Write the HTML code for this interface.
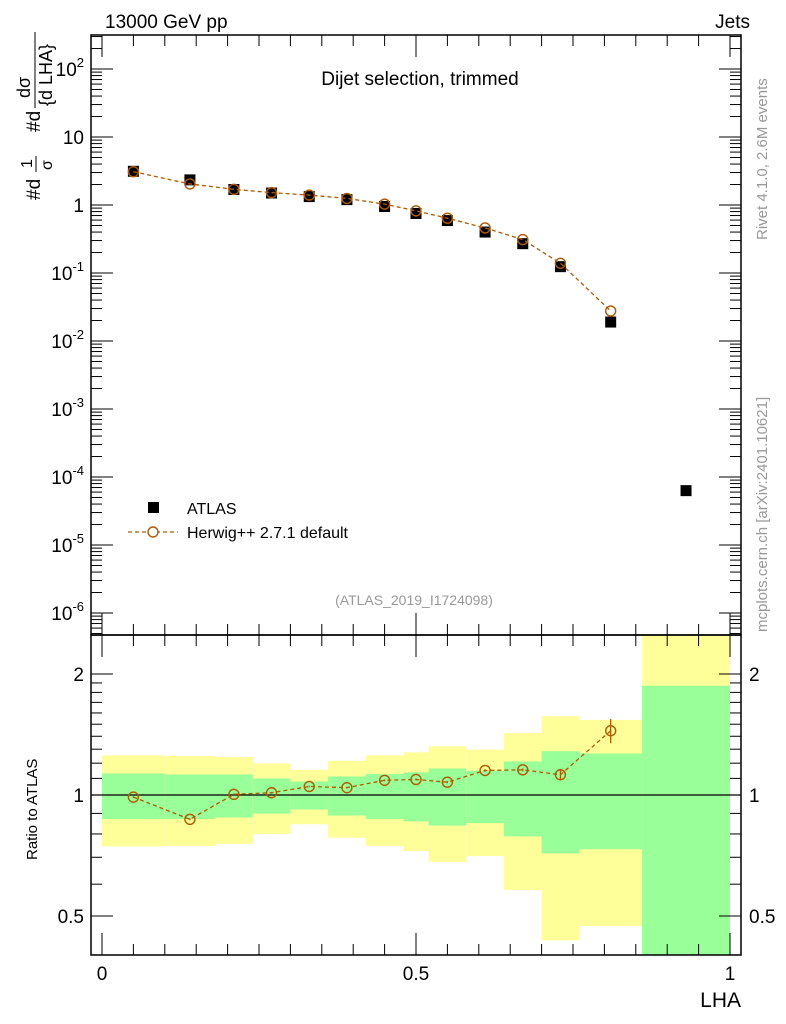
<!DOCTYPE html>
<html><head><meta charset="utf-8"><style>
body{margin:0;background:#fff;}
svg{display:block;font-family:"Liberation Sans",sans-serif;}
</style></head><body>
<svg id="c" width="786" height="1024" xmlns="http://www.w3.org/2000/svg"></svg>
<script>
const edges=[0,0.1,0.18,0.24,0.3,0.36,0.42,0.48,0.52,0.58,0.64,0.7,0.76,0.86,1.0];
const centers=[0.05,0.14,0.21,0.27,0.33,0.39,0.45,0.5,0.55,0.61,0.67,0.73,0.81,0.93];
const atlasValues=[3.13,2.34,1.69,1.50,1.33,1.20,0.95,0.75,0.59,0.40,0.27,0.124,0.019,0.000063];
const herwigValues=[3.09,2.04,1.70,1.52,1.40,1.25,1.03,0.82,0.64,0.46,0.31,0.139,0.0276];
const herwigRatio=[0.988,0.87,1.004,1.013,1.05,1.043,1.088,1.093,1.076,1.151,1.155,1.123,1.445];
const herwigRatioErr=[0.005,0.005,0.005,0.005,0.005,0.005,0.006,0.006,0.006,0.008,0.01,0.03,0.1];
const yellowHi=[1.255,1.25,1.243,1.198,1.155,1.217,1.255,1.277,1.322,1.297,1.426,1.57,1.537,3];
const greenHi=[1.131,1.125,1.125,1.099,1.08,1.112,1.127,1.138,1.164,1.149,1.212,1.285,1.268,1.87];
const greenLo=[0.872,0.872,0.879,0.899,0.92,0.889,0.872,0.86,0.839,0.851,0.789,0.716,0.733,0.3];
const yellowLo=[0.745,0.747,0.756,0.8,0.846,0.783,0.747,0.725,0.681,0.705,0.58,0.435,0.472,0.3];
const topTicks=[2,1,0,-1,-2,-3,-4,-5,-6];
const ratioTicks=[2,1,0.5];
const xTicks=[0,0.5,1];

const NS="http://www.w3.org/2000/svg";
const svg=document.getElementById('c');
function mk(t,a,p){const e=document.createElementNS(NS,t);for(const k in a)e.setAttribute(k,a[k]);(p||svg).appendChild(e);return e;}
const L=91,R=741,T=35,M=635,B=955;
const X=v=>102+v*628;
const Y=v=>205-Math.log10(v)*68;
const YR=r=>795-Math.log10(r)*402;
const clipR=v=>Math.min(2.5,Math.max(0.4,v));

for(let i=0;i<yellowHi.length;i++){
  let e=mk('rect',{x:X(edges[i]),y:YR(clipR(yellowHi[i])),width:X(edges[i+1])-X(edges[i]),height:YR(clipR(yellowLo[i]))-YR(clipR(yellowHi[i])),fill:'#ffff99'});
  
  
  let g=mk('rect',{x:X(edges[i]),y:YR(clipR(greenHi[i])),width:X(edges[i+1])-X(edges[i]),height:YR(clipR(greenLo[i]))-YR(clipR(greenHi[i])),fill:'#99ff99'});
  
  
}
mk('line',{x1:L,x2:R,y1:YR(1),y2:YR(1),stroke:'#000','stroke-width':1.3});

mk('rect',{x:L,y:T,width:R-L,height:M-T,fill:'none',stroke:'#000','stroke-width':1.5});
mk('rect',{x:L,y:M,width:R-L,height:B-M,fill:'none',stroke:'#000','stroke-width':1.5});

for(let d=-7;d<=2;d++){
  for(let m=1;m<10;m++){
    const v=m*Math.pow(10,d);const y=Y(v);if(y<T||y>M)continue;
    const len=m==1?22:11;
    mk('line',{x1:L,x2:L+len,y1:y,y2:y,stroke:'#000'});
    mk('line',{x1:R,x2:R-len,y1:y,y2:y,stroke:'#000'});
  }
}
topTicks.forEach(p=>{
  const t=mk('text',{x:84,y:Y(Math.pow(10,p))+7,'text-anchor':'end','font-size':19});
  
  
  if(p==0)t.textContent='1';else if(p==1)t.textContent='10';
  else{t.textContent='10';const s=mk('tspan',{dy:-9,'font-size':13},t);s.textContent=p;}
});
[0.4,0.5,0.6,0.7,0.8,0.9,1,1.1,1.2,1.3,1.4,1.5,1.6,1.7,1.8,1.9,2,2.5].forEach(v=>{
  const y=YR(v);const len=(v==0.5||v==1||v==2)?22:11;
  mk('line',{x1:L,x2:L+len,y1:y,y2:y,stroke:'#000'});
  mk('line',{x1:R,x2:R-len,y1:y,y2:y,stroke:'#000'});
});
ratioTicks.forEach(v=>{
  let t=mk('text',{x:84,y:YR(v)+7,'text-anchor':'end','font-size':19});t.textContent=v;
  
  
  let t2=mk('text',{x:749,y:YR(v)+7,'font-size':19});t2.textContent=v;
  
  
});
for(let k=0;k<=20;k++){
  const v=k*0.05;const len=k%10==0?22:11;
  mk('line',{x1:X(v),x2:X(v),y1:B,y2:B-len,stroke:'#000'});
  mk('line',{x1:X(v),x2:X(v),y1:M,y2:M+len,stroke:'#000'});
  mk('line',{x1:X(v),x2:X(v),y1:T,y2:T+len,stroke:'#000'});
  mk('line',{x1:X(v),x2:X(v),y1:M,y2:M-len,stroke:'#000'});
}
xTicks.forEach(v=>{
  const t=mk('text',{x:X(v),y:980,'text-anchor':'middle','font-size':19});t.textContent=v;
  
  
});

atlasValues.forEach((v,i)=>{
  const r=mk('rect',{x:X(centers[i])-5.5,y:Y(v)-5.5,width:11,height:11,fill:'#000'});
  
  
});
const brown='#b35900';
let pts=herwigValues.map((v,i)=>X(centers[i])+','+Y(v)).join(' ');
mk('polyline',{points:pts,fill:'none',stroke:brown,'stroke-width':1.3,'stroke-dasharray':'4,3'});
herwigValues.forEach((v,i)=>{
  const c=mk('circle',{cx:X(centers[i]),cy:Y(v),r:5,fill:'none',stroke:brown,'stroke-width':1.4});
  
  
});
pts=herwigRatio.map((v,i)=>X(centers[i])+','+YR(v)).join(' ');
mk('polyline',{points:pts,fill:'none',stroke:brown,'stroke-width':1.3,'stroke-dasharray':'4,3'});
herwigRatio.forEach((v,i)=>{
  const x=X(centers[i]);
  mk('line',{x1:x,x2:x,y1:YR(v+herwigRatioErr[i]),y2:YR(v-herwigRatioErr[i]),stroke:brown,'stroke-width':1.3});
  const c=mk('circle',{cx:x,cy:YR(v),r:5,fill:'none',stroke:brown,'stroke-width':1.4});
  
  
});
</script>
<svg style="position:absolute;left:0;top:0" width="786" height="1024" xmlns="http://www.w3.org/2000/svg" font-family="Liberation Sans,sans-serif">
<text x="105" y="28" font-size="19">13000 GeV pp</text>
<text x="750" y="28" font-size="19" text-anchor="end">Jets</text>
<text x="420" y="85" font-size="19" text-anchor="middle">Dijet selection, trimmed</text>
<text x="414" y="605" font-size="14" fill="#999" text-anchor="middle">(ATLAS_2019_I1724098)</text>
<g>
<rect x="148" y="502" width="11" height="11" fill="#000"/>
<text x="187" y="514" font-size="16">ATLAS</text>
<line x1="128" x2="178" y1="532" y2="532" stroke="#b35900" stroke-width="1.3" stroke-dasharray="4,3"/>
<circle cx="153" cy="532" r="5" fill="#fff" stroke="#b35900" stroke-width="1.4"/>
<text x="187" y="538" font-size="16">Herwig++ 2.7.1 default</text>
</g>
<text transform="translate(767,240) rotate(-90)" font-size="15" fill="#999">Rivet 4.1.0,  2.6M events</text>
<text transform="translate(767,632) rotate(-90)" font-size="15" fill="#999">mcplots.cern.ch [arXiv:2401.10621]</text>
<g font-size="19">
<text transform="translate(40,200) rotate(-90)">#d</text>
<text transform="translate(32,168) rotate(-90)" font-size="16">1</text>
<line x1="36" x2="36" y1="172" y2="156" stroke="#000"/>
<text transform="translate(52,170) rotate(-90)" font-size="16">σ</text>
<text transform="translate(40,132) rotate(-90)">#d</text>
<text transform="translate(30,98) rotate(-90)" font-size="18">dσ</text>
<line x1="35" x2="35" y1="108" y2="32" stroke="#000"/>
<text transform="translate(52,106) rotate(-90)" font-size="18">{d LHA}</text>
</g>
<text transform="translate(37,860) rotate(-90)" font-size="15">Ratio to ATLAS</text>
<text x="741" y="1007" font-size="21" text-anchor="end">LHA</text>
</svg>
</body></html>
